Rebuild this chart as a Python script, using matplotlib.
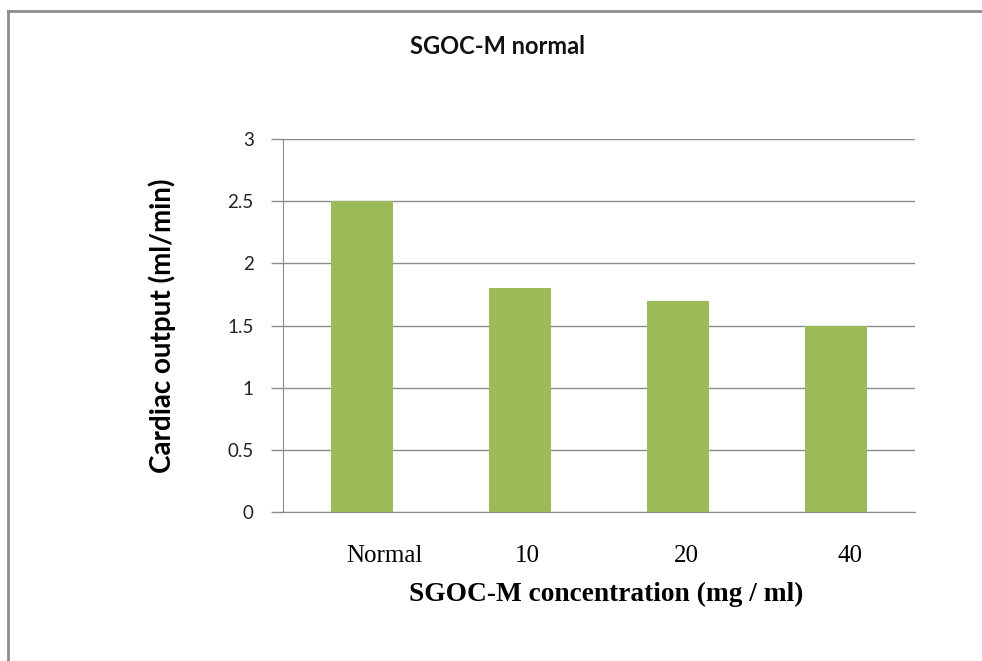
import matplotlib
matplotlib.use("Agg")
import matplotlib.pyplot as plt
from matplotlib.lines import Line2D
import matplotlib.transforms as mtransforms

# values
categories = ["Normal", "10", "20", "40"]
cardiac_output = [2.5, 1.8, 1.7, 1.5]
y_ticks = [0, 0.5, 1, 1.5, 2, 2.5, 3]
y_tick_labels = ["0", "0.5", "1", "1.5", "2", "2.5", "3"]

bar_color = "#9BBB59"
grid_color = "#8C8C8C"

fig = plt.figure(figsize=(9.82, 6.61), dpi=100)
ax = fig.add_axes([0.2882, 0.2254, 0.6436, 0.5643])

x = list(range(len(categories)))
ax.bar(x, cardiac_output, width=0.39, color=bar_color, zorder=3)

ax.set_xlim(-0.5, len(categories) - 0.5)
ax.set_ylim(0, 3)
ax.set_yticks(y_ticks)
ax.set_yticklabels(y_tick_labels, family="Lato", fontsize=13.5, color="#222222")
ax.tick_params(axis="y", length=9, width=1, color=grid_color, pad=12)
ax.yaxis.grid(True, color=grid_color, linewidth=1, zorder=0)

ax.set_xticks(x)
ax.set_xticklabels(categories, family="Liberation Serif", fontsize=18)
ax.tick_params(axis="x", length=0, pad=24)
# Excel nudges the category labels a bit to the right
shifts = [22, 7, 8, 14]
for lab, dx in zip(ax.get_xticklabels(), shifts):
    lab.set_transform(lab.get_transform() + mtransforms.ScaledTranslation(dx / 100, 0, fig.dpi_scale_trans))

for side in ["top", "right"]:
    ax.spines[side].set_visible(False)
ax.spines["left"].set_color(grid_color)
ax.spines["bottom"].set_color(grid_color)

ax.set_xlabel("SGOC-M concentration (mg / ml)", family="Liberation Serif",
              fontweight="bold", fontsize=19.7)
ax.xaxis.set_label_coords(0.511, -0.188)
ax.set_ylabel("Cardiac output (ml/min)", family="Lato", fontweight="bold", fontsize=20)
ax.yaxis.set_label_coords(-0.169, 0.5)

fig.text(0.507, 0.929, "SGOC-M normal", family="Lato", fontweight="bold",
         fontsize=17, ha="center", va="center", color="#111111")

# outer chart frame (only left and top edges are visible in the picture)
fig.add_artist(Line2D([0.008, 0.008], [0, 0.984], color="#8C8C8C", linewidth=2,
                      transform=fig.transFigure))
fig.add_artist(Line2D([0.008, 1.0], [0.984, 0.984], color="#8C8C8C", linewidth=2,
                      transform=fig.transFigure))

fig.savefig("out.png", dpi=100)
